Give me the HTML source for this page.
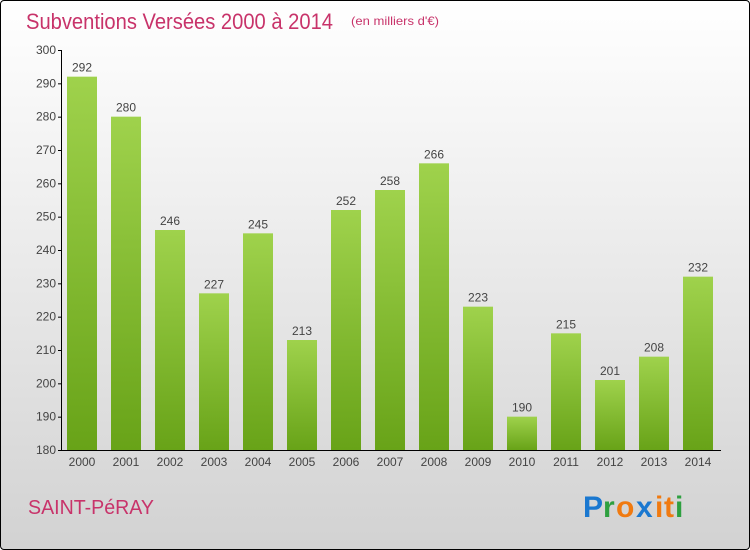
<!DOCTYPE html>
<html><head><meta charset="utf-8"><style>
body{margin:0;width:750px;height:550px;overflow:hidden;font-family:"Liberation Sans",sans-serif}
#wrap{position:absolute;left:0;top:0;width:748px;height:548px;border:1px solid #000;border-radius:4px;background:linear-gradient(#ffffff,#f2f2f2 30%,#d2d2d2)}
</style></head><body>
<div id="wrap">
<svg id="svg" width="750" height="550" style="position:absolute;left:-1px;top:-1px">
<defs><linearGradient id="g" x1="0" y1="0" x2="0" y2="1"><stop offset="0" stop-color="#9fd24c"/><stop offset="1" stop-color="#68a318"/></linearGradient></defs>
<text x="26" y="29" font-size="22" fill="#c8336a" textLength="307" lengthAdjust="spacingAndGlyphs">Subventions Versées 2000 à 2014</text>
<text x="351" y="25" font-size="12" fill="#c8336a" textLength="88" lengthAdjust="spacingAndGlyphs">(en milliers d'€)</text>
<text x="28" y="514" font-size="20" fill="#c8336a" textLength="126" lengthAdjust="spacingAndGlyphs">SAINT-PéRAY</text>
<g font-size="30" font-weight="bold" font-family="Liberation Sans, sans-serif">
<text x="583" y="517" fill="#1a78d0">P</text><text x="603" y="517" fill="#2ea040">r</text><text x="616" y="517" fill="#f07a10">o</text><text x="636" y="517" fill="#1a78d0">x</text><text x="655" y="517" fill="#f07a10">i</text><text x="664" y="517" fill="#f07a10">t</text><text x="675" y="517" fill="#2ea040">i</text>
</g>
<g id="plot"></g>
</svg></div>
<script>
const categories=["2000","2001","2002","2003","2004","2005","2006","2007","2008","2009","2010","2011","2012","2013","2014"];
const values=[292,280,246,227,245,213,252,258,266,223,190,215,201,208,232];
const yTicks=[180,190,200,210,220,230,240,250,260,270,280,290,300];
const ns="http://www.w3.org/2000/svg";
const plot=document.getElementById('plot');
const y=v=>450-(v-180)*400/120;
const x=i=>67+i*44;
function mk(t,a,txt){const e=document.createElementNS(ns,t);for(const k in a)e.setAttribute(k,a[k]);if(txt!==undefined)e.textContent=txt;plot.appendChild(e);return e;}
let ax=mk('line',{x1:61.5,y1:50,x2:61.5,y2:450,stroke:'#000'});


let bx=mk('line',{x1:61,y1:450.5,x2:721,y2:450.5,stroke:'#000'});


yTicks.forEach(v=>{
 let l=mk('line',{x1:58,y1:y(v)+0.5,x2:62,y2:y(v)+0.5,stroke:'#000'});
 
 
 let t=mk('text',{x:56,y:y(v)+4,'font-size':12,fill:'#444','text-anchor':'end'},v);
 
 
});
categories.forEach((c,i)=>{
 const v=values[i];
 let r=mk('rect',{x:x(i),y:y(v),width:30,height:450-y(v),fill:'url(#g)'});
 
 
 let t=mk('text',{x:x(i)+15,y:y(v)-5,'font-size':12,fill:'#444','text-anchor':'middle'},v);
 
 
 let k=mk('text',{x:x(i)+15,y:466,'font-size':12,fill:'#444','text-anchor':'middle'},c);
 
 
});
</script>
</body></html>
